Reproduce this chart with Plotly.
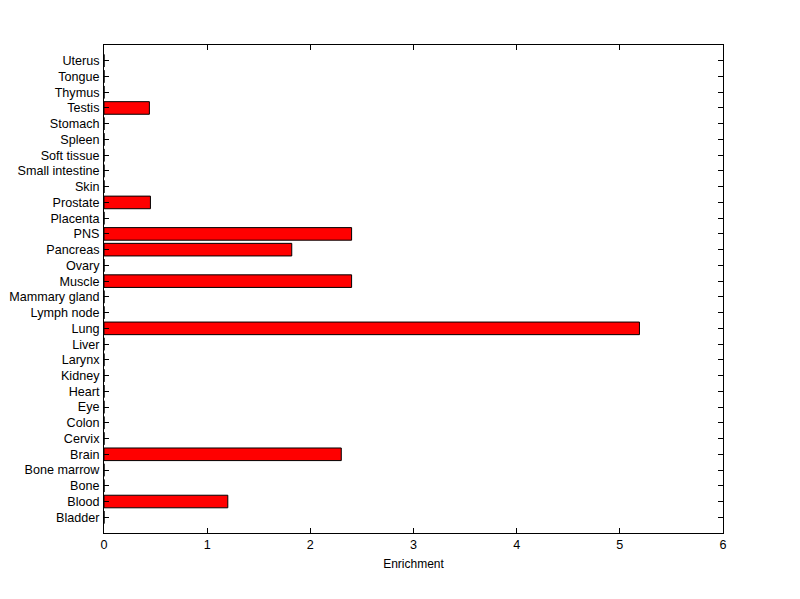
import plotly.graph_objects as go

tissues = ["Bladder", "Blood", "Bone", "Bone marrow", "Brain", "Cervix", "Colon", "Eye",
           "Heart", "Kidney", "Larynx", "Liver", "Lung", "Lymph node", "Mammary gland",
           "Muscle", "Ovary", "Pancreas", "PNS", "Placenta", "Prostate", "Skin",
           "Small intestine", "Soft tissue", "Spleen", "Stomach", "Testis", "Thymus",
           "Tongue", "Uterus"]
enrichment = [0, 1.2, 0, 0, 2.3, 0, 0, 0,
              0, 0, 0, 0, 5.19, 0, 0,
              2.4, 0, 1.82, 2.4, 0, 0.45, 0,
              0, 0, 0, 0, 0.44, 0,
              0, 0]
x_ticks = [0, 1, 2, 3, 4, 5, 6]

positions = list(range(1, len(tissues) + 1))

fig = go.Figure()
fig.add_trace(go.Bar(
    x=enrichment, y=positions, orientation="h", width=0.8,
    marker=dict(color="#ff0000", line=dict(color="black", width=1)),
    hoverinfo="x+text", text=tissues, textposition="none",
))

axis_font = dict(family="Liberation Sans, Arial, Helvetica, sans-serif", size=12.6, color="black")
fig.update_layout(
    width=800, height=599,
    paper_bgcolor="white", plot_bgcolor="white",
    margin=dict(l=104, r=77, t=45, b=66),
    showlegend=False,
    font=axis_font,
    xaxis=dict(range=[0, 6], tickvals=x_ticks, ticks="inside", ticklen=5,
               showgrid=False, zeroline=False, showline=True, linecolor="black",
               linewidth=1, mirror="ticks", tickcolor="black", automargin=False,
               title=dict(text="Enrichment", font=dict(size=12), standoff=8)),
    yaxis=dict(range=[0, 31], tickvals=positions, ticktext=tissues, ticks="inside",
               ticklen=5, showgrid=False, zeroline=False, showline=True,
               linecolor="black", linewidth=1, mirror="ticks", tickcolor="black",
               automargin=False, ticklabelstandoff=1),
)

fig.write_html("out.html",
               config={"displayModeBar": False},
               post_script="document.body.style.margin='0px';document.body.style.overflow='hidden';")
